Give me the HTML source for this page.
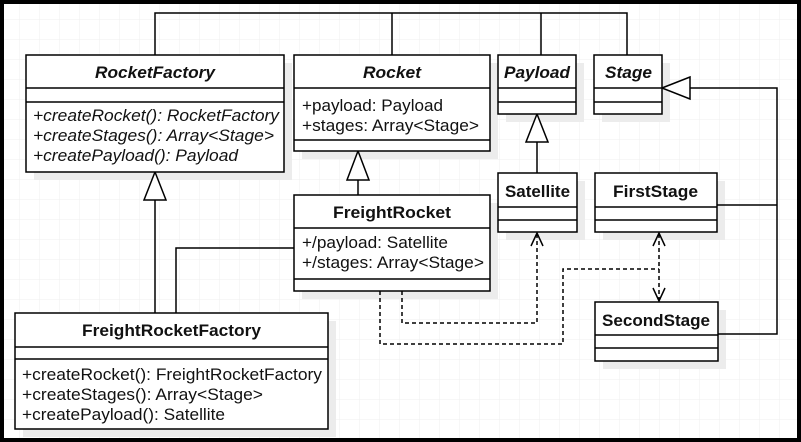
<!DOCTYPE html>
<html><head><meta charset="utf-8"><style>
html,body{margin:0;padding:0;}
body{width:801px;height:442px;overflow:hidden;background:#fff;}
svg{display:block;}
text{font-family:"Liberation Sans",sans-serif;font-size:17px;fill:#111;}
.h{font-weight:bold;}
.i{font-style:italic;}
</style></head><body>
<svg width="801" height="442" viewBox="0 0 801 442" xmlns="http://www.w3.org/2000/svg">
<defs>
<pattern id="g" width="20" height="20" patternUnits="userSpaceOnUse">
<path d="M20 0V20M0 20H20" stroke="#efefef" stroke-width="1" fill="none"/>
</pattern>
</defs>
<rect width="801" height="442" fill="#fff"/>
<rect width="801" height="442" fill="url(#g)"/>
<g fill="#ececec">
<rect x="34" y="63" width="258" height="117"/>
<rect x="302" y="63" width="196" height="96"/>
<rect x="506" y="63" width="78" height="59"/>
<rect x="602" y="63" width="68" height="59"/>
<rect x="506" y="181" width="79" height="59"/>
<rect x="603" y="181" width="122" height="59"/>
<rect x="302" y="203" width="196" height="96"/>
<rect x="23" y="321" width="313" height="116"/>
<rect x="603" y="310" width="123" height="59"/>
</g>
<g stroke="#000" stroke-width="1.5" fill="none">
<path d="M155 55V13H627V55M392 13V55M541 13V55"/>
<path d="M155 200V313"/>
<path d="M155 172L144 200H166Z" fill="#fff"/>
<path d="M358 180V195"/>
<path d="M358 151L347 180H369Z" fill="#fff"/>
<path d="M537 142V173"/>
<path d="M537 114L526 142H548Z" fill="#fff"/>
<path d="M690 88H777V334H718M717 205H777"/>
<path d="M662 88L690 77V99Z" fill="#fff"/>
<path d="M176 313V248H294"/>
<g stroke-dasharray="4 3">
<path d="M402 291V323H537V234"/>
<path d="M380 291V344H563V269H659"/>
<path d="M659 234V300"/>
</g>
<path d="M531 246L537 233L543 246M653 246L659 233L665 246M653 288L659 301L665 288"/>
</g>
<g stroke="#000" stroke-width="1.5" fill="#fff">
<rect x="26" y="55" width="258" height="117"/><path d="M26 88H284M26 102H284"/>
<rect x="294" y="55" width="196" height="96"/><path d="M294 88H490M294 140H490"/>
<rect x="498" y="55" width="78" height="59"/><path d="M498 88H576M498 102H576"/>
<rect x="594" y="55" width="68" height="59"/><path d="M594 88H662M594 102H662"/>
<rect x="498" y="173" width="79" height="59"/><path d="M498 207H577M498 220H577"/>
<rect x="595" y="173" width="122" height="59"/><path d="M595 207H717M595 220H717"/>
<rect x="294" y="195" width="196" height="96"/><path d="M294 228H490M294 279H490"/>
<rect x="15" y="313" width="313" height="116"/><path d="M15 347H328M15 359H328"/>
<rect x="595" y="302" width="123" height="59"/><path d="M595 335H718M595 348H718"/>
</g>
<g lengthAdjust="spacingAndGlyphs">
<text class="h i" x="95" y="78" textLength="120" lengthAdjust="spacingAndGlyphs">RocketFactory</text>
<text class="i" x="33" y="121" textLength="246" lengthAdjust="spacingAndGlyphs">+createRocket(): RocketFactory</text>
<text class="i" x="33" y="141" textLength="241" lengthAdjust="spacingAndGlyphs">+createStages(): Array&lt;Stage&gt;</text>
<text class="i" x="33" y="161" textLength="205" lengthAdjust="spacingAndGlyphs">+createPayload(): Payload</text>
<text class="h i" x="363" y="78" textLength="58" lengthAdjust="spacingAndGlyphs">Rocket</text>
<text x="302" y="111" textLength="141" lengthAdjust="spacingAndGlyphs">+payload: Payload</text>
<text x="302" y="131" textLength="177" lengthAdjust="spacingAndGlyphs">+stages: Array&lt;Stage&gt;</text>
<text class="h i" x="504" y="78" textLength="66" lengthAdjust="spacingAndGlyphs">Payload</text>
<text class="h i" x="605" y="78" textLength="47" lengthAdjust="spacingAndGlyphs">Stage</text>
<text class="h" x="505" y="197" textLength="65" lengthAdjust="spacingAndGlyphs">Satellite</text>
<text class="h" x="613" y="197" textLength="85" lengthAdjust="spacingAndGlyphs">FirstStage</text>
<text class="h" x="333" y="218" textLength="118" lengthAdjust="spacingAndGlyphs">FreightRocket</text>
<text x="302" y="248" textLength="146" lengthAdjust="spacingAndGlyphs">+/payload: Satellite</text>
<text x="302" y="268" textLength="182" lengthAdjust="spacingAndGlyphs">+/stages: Array&lt;Stage&gt;</text>
<text class="h" x="82" y="336" textLength="179" lengthAdjust="spacingAndGlyphs">FreightRocketFactory</text>
<text x="22" y="380" textLength="300" lengthAdjust="spacingAndGlyphs">+createRocket(): FreightRocketFactory</text>
<text x="22" y="400" textLength="241" lengthAdjust="spacingAndGlyphs">+createStages(): Array&lt;Stage&gt;</text>
<text x="22" y="420" textLength="203" lengthAdjust="spacingAndGlyphs">+createPayload(): Satellite</text>
<text class="h" x="602" y="326" textLength="108" lengthAdjust="spacingAndGlyphs">SecondStage</text>
</g>
<rect x="2" y="2" width="797" height="438" fill="none" stroke="#000" stroke-width="4"/>
</svg>
</body></html>
